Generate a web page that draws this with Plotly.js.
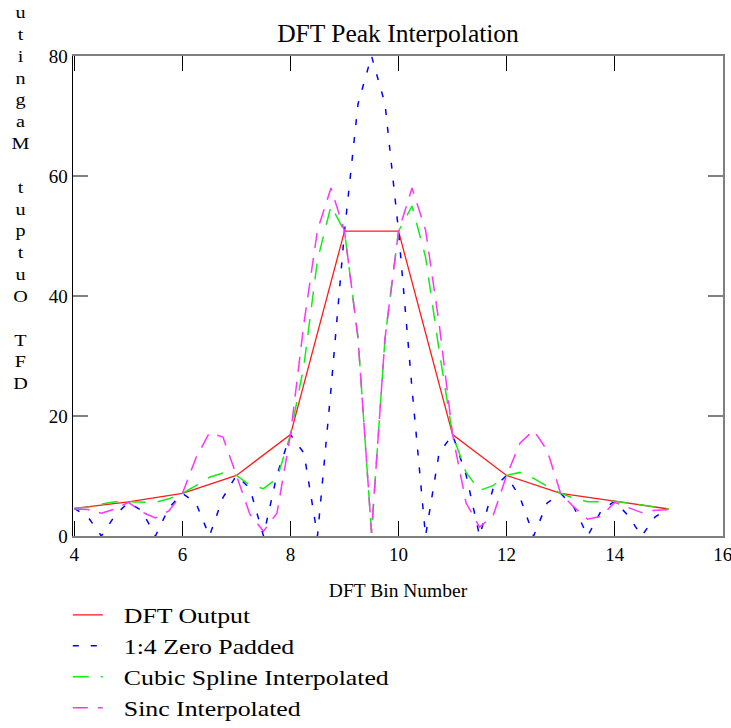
<!DOCTYPE html>
<html>
<head>
<meta charset="utf-8">
<script src="https://cdn.plot.ly/plotly-3.0.1.min.js"></script>
<style>
  html, body { margin: 0; padding: 0; background: #ffffff; }
  #chart { width: 731px; height: 728px; }
  #chart .legend .scrollbox { clip-path: none !important; }
  #chart .legendtext {
    transform-box: fill-box;
    transform-origin: 0 50%;
    transform: translateX(16px) scaleX(1.2);
  }
  #chart .annotation-text {
    transform-box: fill-box;
    transform-origin: 50% 50%;
    transform: scaleX(1.2);
  }
</style>
</head>
<body>
<div id="chart"></div>
<script>
// DFT bins (integer) and DFT output magnitude
const bins = [4, 5, 6, 7, 8, 9, 10, 11, 12, 13, 14, 15];
const dftOutput = [4.6, 5.7, 7.1, 10.1, 16.9, 50.8, 50.8, 16.9, 10.1, 7.1, 5.8, 4.5];

// quarter-bin positions (1:4)
const fineBins = [4, 4.25, 4.5, 4.75, 5, 5.25, 5.5, 5.75, 6, 6.25, 6.5, 6.75,
  7, 7.25, 7.5, 7.75, 8, 8.25, 8.5, 8.75, 9, 9.25, 9.5, 9.75,
  10, 10.25, 10.5, 10.75, 11, 11.25, 11.5, 11.75, 12, 12.25, 12.5, 12.75,
  13, 13.25, 13.5, 13.75, 14, 14.25, 14.5, 14.75, 15];

const zeroPadded = [4.6, 3.2, 0, 3.4, 5.6, 4.2, 0, 4.7, 7.1, 5.5, 0, 6.4,
  10.1, 7.9, 0, 10.2, 16.9, 13.8, 0, 24.5, 50.8, 72.0, 80.0, 72.0,
  50.8, 24.5, 0, 13.8, 16.9, 10.2, 0, 7.9, 10.1, 6.4, 0, 5.5,
  7.1, 4.7, 0, 4.2, 5.8, 3.4, 0, 3.2, 4.5];

const cubicSpline = [4.6, 4.8, 5.3, 5.7, 5.7, 5.7, 5.6, 6.2, 7.1, 8.4, 9.8, 10.5,
  10.1, 8.5, 7.9, 9.6, 16.9, 28.5, 46.0, 55.0, 50.8, 33.0, 0.5, 33.0,
  50.8, 55.0, 46.5, 31.0, 16.9, 10.6, 7.6, 8.4, 10.1, 10.6, 9.6, 8.3,
  7.1, 6.3, 5.7, 5.7, 5.8, 5.5, 5.2, 4.9, 4.5];

const sincInterp = [4.5, 4.4, 3.8, 4.5, 5.6, 4.0, 3.0, 4.2, 7.1, 13.0, 17.2, 16.5,
  10.1, 3.6, 0.8, 3.8, 16.9, 35.5, 51.0, 58.0, 50.8, 33.0, 0.5, 33.0,
  50.8, 58.0, 51.0, 35.5, 16.9, 5.5, 1.5, 3.4, 10.1, 15.5, 17.6, 14.3,
  7.1, 4.8, 2.8, 3.3, 5.6, 4.8, 3.9, 4.3, 4.4];

const seriesNames = ['DFT Output', '1:4 Zero Padded', 'Cubic Spline Interpolated', 'Sinc Interpolated'];
const xTicks = [4, 6, 8, 10, 12, 14, 16];
const yTicks = [0, 20, 40, 60, 80];
const yTitleLetters = ['u','t','i','n','g','a','M',' ','t','u','p','t','u','O',' ','T','F','D'];

const serif = 'Liberation Serif, Times New Roman, serif';

const traces = [
  { x: bins, y: dftOutput, name: seriesNames[0], type: 'scatter', mode: 'lines',
    line: { color: '#ff1a1a', width: 1.3 } },
  { x: fineBins, y: zeroPadded, name: seriesNames[1], type: 'scatter', mode: 'lines',
    line: { color: '#0000ff', width: 1.5, dash: '6px,12px' } },
  { x: fineBins, y: cubicSpline, name: seriesNames[2], type: 'scatter', mode: 'lines',
    line: { color: '#11ee11', width: 1.5, dash: '16px,12px' } },
  { x: fineBins, y: sincInterp, name: seriesNames[3], type: 'scatter', mode: 'lines',
    line: { color: '#ff33ff', width: 1.5, dash: '15px,10px' } },
  { x: [], y: [], yaxis: 'y2', showlegend: false, hoverinfo: 'skip', type: 'scatter', mode: 'lines' }
];

const layout = {
  width: 731, height: 728,
  margin: { l: 73, r: 8, t: 56, b: 192, autoexpand: false },
  paper_bgcolor: '#ffffff', plot_bgcolor: '#ffffff',
  font: { family: serif, color: '#000000', size: 19 },
  showlegend: true,
  title: { text: 'DFT Peak Interpolation', font: { family: serif, size: 25.5, color: '#000' },
           x: 0.5, xref: 'paper', xanchor: 'center', y: 1 - 33 / 728, yref: 'container', yanchor: 'middle' },
  xaxis: {
    range: [3.975, 16.005], tickvals: xTicks, ticktext: xTicks.map(String),
    showline: true, linecolor: '#808080', linewidth: 2, mirror: 'ticks',
    ticks: 'inside', ticklen: 15, tickwidth: 1.5, tickcolor: '#000000',
    ticklabeloverflow: 'allow',
    showgrid: false, zeroline: false,
    tickfont: { family: serif, size: 19, color: '#000' },
    title: { text: 'DFT Bin Number', font: { family: serif, size: 19.5, color: '#000' }, standoff: 20 }
  },
  yaxis: {
    range: [0, 80], tickvals: yTicks, ticktext: yTicks.map(String),
    showline: true, linecolor: '#000000', linewidth: 1.5, mirror: false,
    ticks: 'inside', ticklen: 15, tickwidth: 2, tickcolor: '#808080',
    showgrid: false, zeroline: false,
    tickfont: { family: serif, size: 19, color: '#000' }
  },
  yaxis2: {
    range: [0, 80], tickvals: yTicks, overlaying: 'y', side: 'right',
    showline: true, linecolor: '#808080', linewidth: 2,
    ticks: 'inside', ticklen: 15, tickwidth: 2, tickcolor: '#808080',
    showticklabels: false, showgrid: false, zeroline: false
  },
  legend: {
    x: -0.008, xanchor: 'left', y: -0.1217, yanchor: 'top',
    bgcolor: 'rgba(0,0,0,0)', borderwidth: 0,
    font: { family: serif, size: 21.5, color: '#000' },
    itemwidth: 30, tracegroupgap: 0
  },
  annotations: [{
    text: yTitleLetters.join('<br>'),
    xref: 'paper', yref: 'paper', x: (20 - 73) / 650, y: (535.3 - 198) / 479.3,
    xanchor: 'center', yanchor: 'middle', align: 'center', showarrow: false,
    font: { family: serif, size: 16.8, color: '#000' }
  }]
};

Plotly.newPlot('chart', traces, layout, { staticPlot: true, displayModeBar: false });
</script>
</body>
</html>
